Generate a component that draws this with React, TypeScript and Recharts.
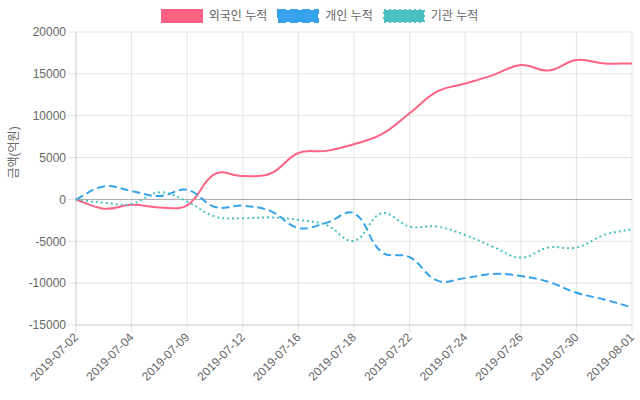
import React from 'react';
import { LineChart, Line, XAxis, YAxis, CartesianGrid, ReferenceLine } from 'recharts';

const dates = ['2019-07-02','2019-07-03','2019-07-04','2019-07-08','2019-07-09','2019-07-10','2019-07-12','2019-07-15','2019-07-16','2019-07-17','2019-07-18','2019-07-19','2019-07-22','2019-07-23','2019-07-24','2019-07-25','2019-07-26','2019-07-29','2019-07-30','2019-07-31','2019-08-01'];
const foreign = [0,-1100,-650,-950,-700,3050,2800,3100,5550,5800,6600,7800,10300,12900,13850,14850,16050,15400,16650,16250,16250];
const individual = [0,1550,1000,400,1150,-900,-750,-1400,-3400,-2800,-1650,-6300,-6900,-9700,-9400,-8900,-9150,-9850,-11150,-11950,-12900];
const institution = [0,-400,-550,850,-250,-2050,-2250,-2150,-2450,-3050,-4950,-1650,-3250,-3250,-4250,-5650,-6950,-5750,-5750,-4250,-3550];
const yTicks = [-15000,-10000,-5000,0,5000,10000,15000,20000];

const seriesNames = ['외국인 누적','개인 누적','기관 누적'];
const colors = ['rgb(255,99,132)','rgb(54,162,235)','rgb(75,192,192)'];
const dashes = [undefined, '8 4', '2 3'];

const data = dates.map((d, i) => ({ date: d, foreign: foreign[i], individual: individual[i], institution: institution[i] }));

const FONT = "'Liberation Sans', Arial, 'Noto Sans CJK KR', sans-serif";

// Chart.js-like spline (tension 0.4)
const chartJsCurve: any = (context: any) => {
  let pts: number[][] = [];
  return {
    areaStart() {}, areaEnd() {},
    lineStart() { pts = []; },
    point(x: number, y: number) { pts.push([+x, +y]); },
    lineEnd() {
      const n = pts.length;
      if (!n) return;
      context.moveTo(pts[0][0], pts[0][1]);
      if (n === 1) return;
      const t = 0.4;
      const cps = pts.map((p, i) => {
        const prev = pts[i - 1] || p;
        const next = pts[i + 1] || p;
        const d01 = Math.hypot(p[0] - prev[0], p[1] - prev[1]);
        const d12 = Math.hypot(next[0] - p[0], next[1] - p[1]);
        let s01 = d01 / (d01 + d12);
        let s12 = d12 / (d01 + d12);
        if (!isFinite(s01)) s01 = 0;
        if (!isFinite(s12)) s12 = 0;
        const fa = t * s01, fb = t * s12;
        return {
          px: p[0] - fa * (next[0] - prev[0]), py: p[1] - fa * (next[1] - prev[1]),
          nx: p[0] + fb * (next[0] - prev[0]), ny: p[1] + fb * (next[1] - prev[1]),
        };
      });
      for (let i = 1; i < n; i++) {
        context.bezierCurveTo(cps[i - 1].nx, cps[i - 1].ny, cps[i].px, cps[i].py, pts[i][0], pts[i][1]);
      }
    },
  };
};

const XTick = (props: any) => {
  const { x, y, payload } = props;
  return (
    <g transform={`translate(${x},${y})`}>
      <text transform="rotate(-45)" textAnchor="end" dy="0.35em" fill="#666" fontSize={12} fontFamily={FONT}>{payload.value}</text>
    </g>
  );
};

const LegendBar = () => (
  <div style={{ position: 'absolute', left: 0, top: 10, width: 640, display: 'flex', justifyContent: 'center', alignItems: 'center', fontFamily: FONT, fontSize: 12, color: '#666', lineHeight: '12px' }}>
    {seriesNames.map((name, i) => (
      <div key={name} style={{ display: 'flex', alignItems: 'center', marginRight: i < 2 ? 11 : 0 }}>
        <svg width={40} height={12} style={{ overflow: 'visible', display: 'block' }}>
          <rect x={0} y={0} width={40} height={12} fill={colors[i]} stroke={colors[i]} strokeWidth={2} strokeDasharray={dashes[i]} />
        </svg>
        <span style={{ marginLeft: 7 }}>{name}</span>
      </div>
    ))}
  </div>
);

export default function App() {
  return (
    <div style={{ position: 'absolute', left: 0, top: 0, width: 640, height: 400, background: '#fff' }}>
      <LineChart width={640} height={400} data={data} margin={{ top: 32, right: 8, left: 0, bottom: 0 }}>
        <CartesianGrid stroke="rgba(0,0,0,0.1)" />
        <XAxis dataKey="date" interval={1} height={75} tick={<XTick />} tickSize={8} tickMargin={2}
          tickLine={{ stroke: 'rgba(0,0,0,0.1)' }} axisLine={{ stroke: 'rgba(0,0,0,0.1)' }} />
        <YAxis domain={[-15000, 20000]} ticks={yTicks} width={76} tickSize={8} tickMargin={2}
          tick={{ fill: '#666', fontSize: 12, fontFamily: FONT }}
          tickLine={{ stroke: 'rgba(0,0,0,0.1)' }} axisLine={{ stroke: 'rgba(0,0,0,0.1)' }}
          label={{ value: '금액(억원)', angle: -90, position: 'insideLeft', offset: 14, fill: '#666', fontSize: 12, fontFamily: FONT }} />
        <ReferenceLine y={0} stroke="rgba(0,0,0,0.25)" />
        <Line dataKey="foreign" name={seriesNames[0]} type={chartJsCurve} stroke={colors[0]} strokeWidth={2} dot={false} isAnimationActive={false} />
        <Line dataKey="individual" name={seriesNames[1]} type={chartJsCurve} stroke={colors[1]} strokeWidth={2} strokeDasharray={dashes[1]} dot={false} isAnimationActive={false} />
        <Line dataKey="institution" name={seriesNames[2]} type={chartJsCurve} stroke={colors[2]} strokeWidth={2} strokeDasharray={dashes[2]} dot={false} isAnimationActive={false} />
      </LineChart>
      <LegendBar />
    </div>
  );
}
